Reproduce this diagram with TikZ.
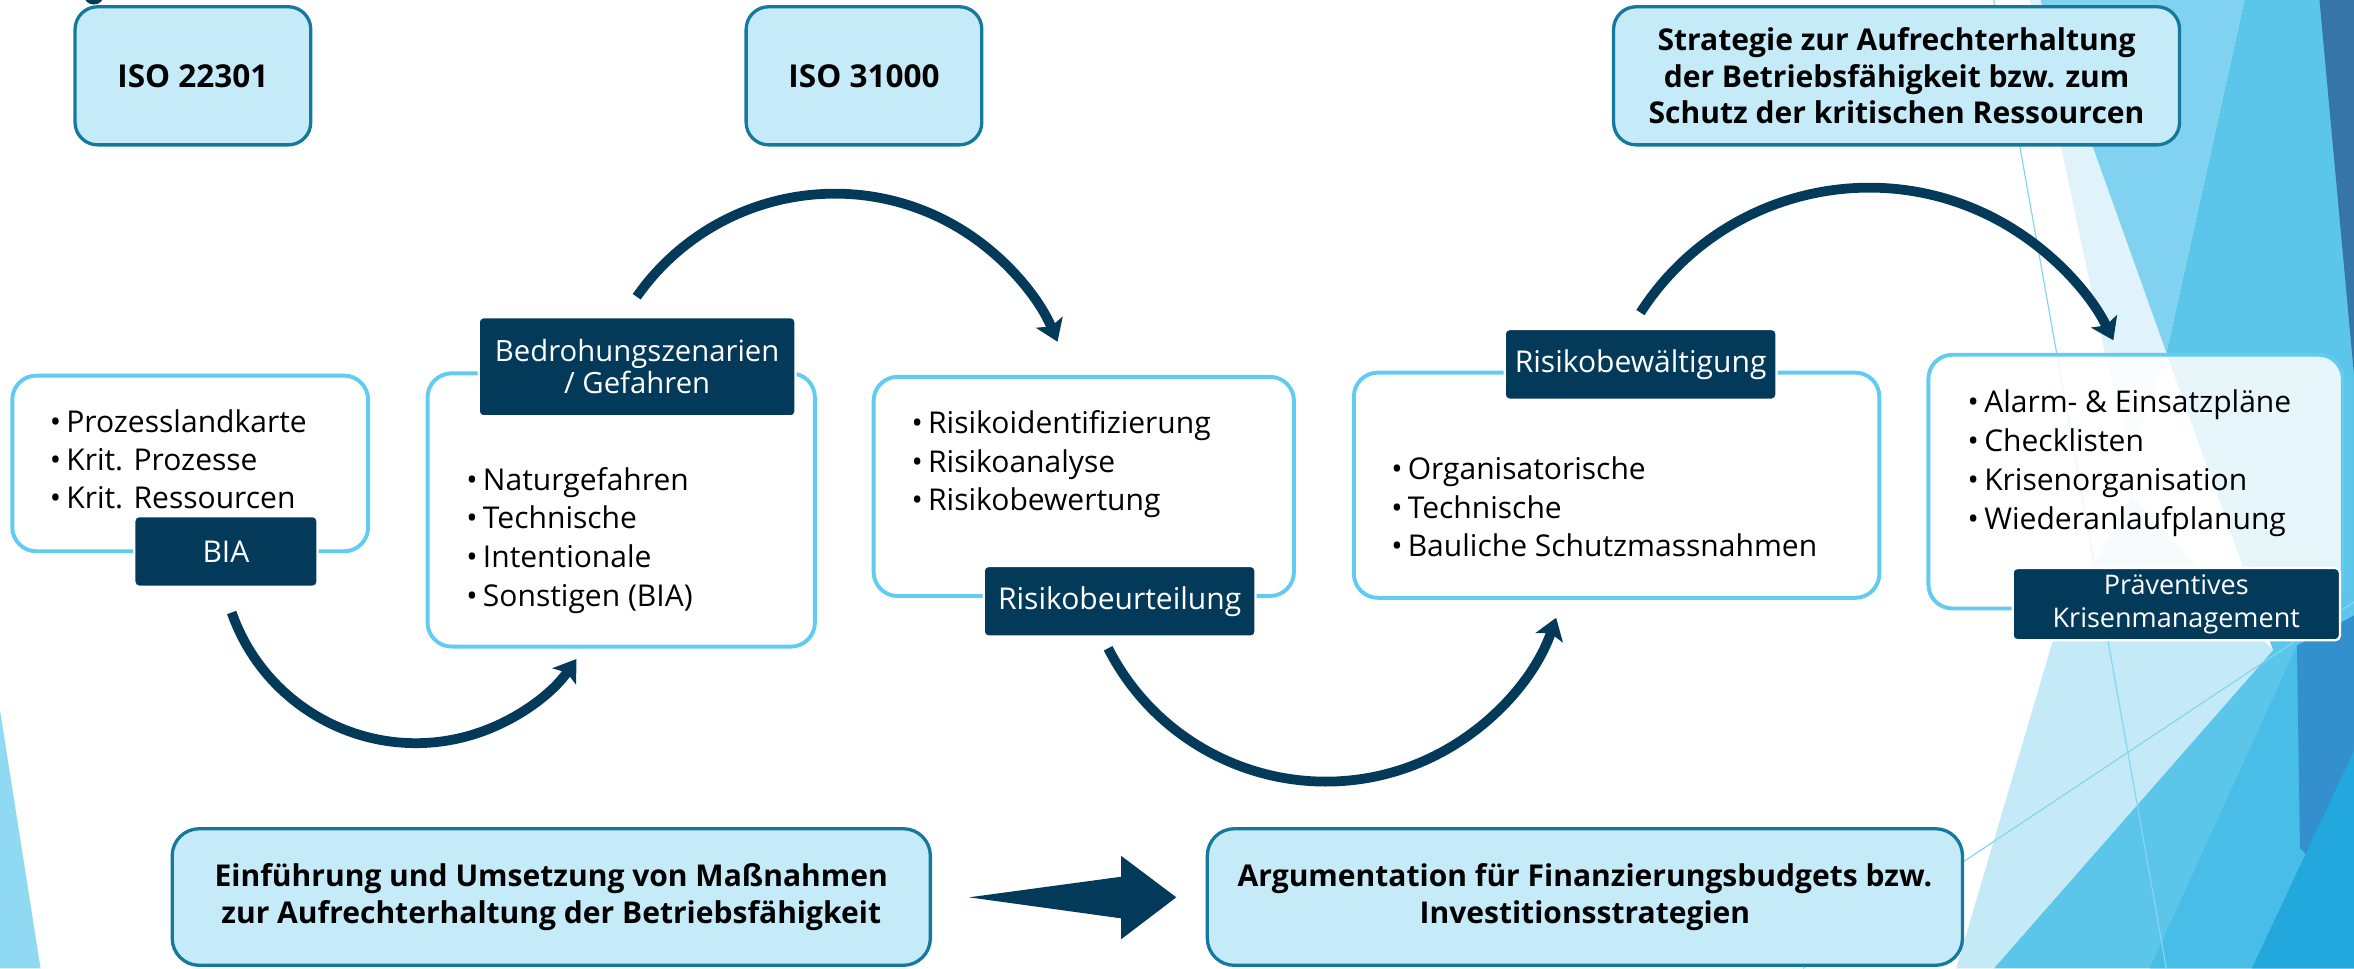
\documentclass[tikz,border=0pt]{standalone}
\usepackage{fontspec}
\setmainfont{Open Sans}
\usetikzlibrary{arrows.meta,calc}
\definecolor{navy}{HTML}{033A5A}
\definecolor{hdfill}{HTML}{C5EBF9}
\definecolor{hdline}{HTML}{15799D}
\definecolor{ltline}{HTML}{62CBF0}
\definecolor{bgpale}{HTML}{E0F3FA}
\definecolor{bglight}{HTML}{80D2F0}
\definecolor{bgmid}{HTML}{5BC5EA}
\definecolor{bgmidb}{HTML}{47BDE7}
\definecolor{bglow}{HTML}{C4EAF7}
\definecolor{bgsteel}{HTML}{3675A5}
\definecolor{bgdark}{HTML}{3390CC}
\definecolor{bgbright}{HTML}{22A8DC}
\definecolor{bgleft}{HTML}{8FDAF2}
\definecolor{bgthin}{HTML}{86D5F2}
\newcommand\itm[1]{\makebox[11pt][l]{•}#1}
\begin{document}
\begin{tikzpicture}[x=1pt,y=-1pt,
  hdbox/.style={draw=hdline, fill=hdfill, line width=2.2pt, rounded corners=15pt,
    inner sep=0pt, align=center, font=\fontsize{20}{24.2}\selectfont\bfseries},
  listbox/.style={draw=ltline, fill=white, line width=2.6pt, rounded corners=16pt, inner sep=0pt},
  tag/.style={draw=white, line width=1.5pt, fill=navy, text=white, rounded corners=3pt,
    inner sep=0pt, align=center, font=\fontsize{19.5}{21.5}\selectfont},
  items/.style={anchor=base west, inner sep=0pt, font=\fontsize{20}{25.5}\selectfont},
  bigarrow/.style={draw=navy, line width=6.5pt, -{Stealth[length=14pt,width=19pt,inset=3pt]}},
  thin/.style={draw=bgthin, line width=0.8pt}
]
\useasboundingbox (0,0) rectangle (1568,645);
\clip (0,0) rectangle (1568,645);

% decorative facets on the right and the left edge
\fill[bgmid] (1495,0) -- (1568,0) -- (1568,645) -- (1328,645) -- (1514,433) -- (1443,235) -- cycle;
\fill[bgmidb] (1432,645) -- (1530,430) -- (1568,430) -- (1568,645) -- cycle;
\fill[bgdark] (1530,430) -- (1568,410) -- (1568,600) -- (1532,565) -- cycle;
\fill[bgbright] (1500,645) -- (1568,500) -- (1568,645) -- cycle;
\fill[bgsteel] (1545,0) -- (1568,0) -- (1568,250) -- cycle;
\fill[bglight] (1359,0) -- (1495,0) -- (1443,235) -- (1420,300) -- cycle;
\fill[bgpale] (1352,0) -- (1359,0) -- (1443,235) -- (1420,300) -- (1402,235) -- cycle;
\fill[bglow] (1367,428) -- (1420,330) -- (1514,433) -- (1328,645) -- (1303,645) -- cycle;
\fill[bgleft] (0,473) -- (27,645) -- (0,645) -- cycle;
\coordinate (ta) at (1328,0);
\coordinate (tb) at (1443,645);
\coordinate (tc) at (1201,645);
\coordinate (td) at (1568,401);
\draw[thin] (ta) -- (tb);
\draw[thin] (tc) -- (td);
\fill[navy] (62.5,-3) ellipse[x radius=6.5, y radius=6];

% standards and strategy
\node[hdbox, minimum width=157pt, minimum height=92pt, font=\fontsize{21}{24}\selectfont\bfseries] (iso1) at (128.5,50.5) {ISO 22301};
\node[hdbox, minimum width=157pt, minimum height=92pt, font=\fontsize{21}{24}\selectfont\bfseries] (iso2) at (575.5,50.5) {ISO 31000};
\node[hdbox, minimum width=377pt, minimum height=92pt] (strat) at (1263.3,50.5)
  {Strategie zur Aufrechterhaltung\\der Betriebsfähigkeit bzw. zum\\Schutz der kritischen Ressourcen};

% process boxes
\node[listbox, minimum width=237pt, minimum height=117pt] (bia) at (126.7,308.7) {};
\node[listbox, minimum width=258pt, minimum height=182pt] (bed) at (413.8,339.7) {};
\node[listbox, minimum width=280pt, minimum height=146pt] (beu) at (721.9,324) {};
\node[listbox, minimum width=350pt, minimum height=150pt] (bew) at (1076.8,323.2) {};
\node[listbox, minimum width=276pt, minimum height=169pt, fill opacity=0.85] (pra) at (1422.5,320.8) {};

\node[items] (bialist) at (33,288) {\begin{tabular}[t]{@{}l@{}}\itm{Prozesslandkarte}\\\itm{Krit. Prozesse}\\\itm{Krit. Ressourcen}\end{tabular}};
\node[items, font=\fontsize{20}{25.8}\selectfont] (bedlist) at (310.5,326.4) {\begin{tabular}[t]{@{}l@{}}\itm{Naturgefahren}\\\itm{Technische}\\\itm{Intentionale}\\\itm{Sonstigen (BIA)}\end{tabular}};
\node[items] (beulist) at (607,289) {\begin{tabular}[t]{@{}l@{}}\itm{Risikoidentifizierung}\\\itm{Risikoanalyse}\\\itm{Risikobewertung}\end{tabular}};
\node[items] (bewlist) at (926.5,319.7) {\begin{tabular}[t]{@{}l@{}}\itm{Organisatorische}\\\itm{Technische}\\\itm{Bauliche Schutzmassnahmen}\end{tabular}};
\node[items, font=\fontsize{20}{26}\selectfont] (pralist) at (1310.5,275) {\begin{tabular}[t]{@{}l@{}}\itm{Alarm- \& Einsatzpläne}\\\itm{Checklisten}\\\itm{Krisenorganisation}\\\itm{Wiederanlaufplanung}\end{tabular}};

\node[tag, minimum width=122pt, minimum height=47pt, font=\fontsize{20}{22}\selectfont] (bialab) at (150.5,367.3) {BIA};
\node[tag, minimum width=211pt, minimum height=66pt] (bedlab) at (424.4,244.3) {Bedrohungszenarien\\/ Gefahren};
\node[tag, minimum width=181pt, minimum height=47pt, font=\fontsize{20}{22}\selectfont] (beulab) at (745.8,400.5) {Risikobeurteilung};
\node[tag, minimum width=181pt, minimum height=47pt, font=\fontsize{20}{22}\selectfont] (bewlab) at (1092.8,242.7) {Risikobewältigung};
\node[tag, minimum width=218pt, minimum height=48pt, font=\fontsize{18}{21.6}\selectfont] (pralab) at (1449.6,402.4) {Präventives\\Krisenmanagement};

% curved flow arrows
\coordinate (ca) at (277,365);
\coordinate (cb) at (556,290);
\coordinate (cc) at (883,358);
\coordinate (cd) at (1245,306);
\draw[bigarrow] ($(ca)+(160.7:130)$) arc[start angle=160.7, end angle=34.7, radius=130];
\draw[bigarrow] ($(cb)+(-145:161)$) arc[start angle=-145, end angle=-22.8, radius=161];
\draw[bigarrow] ($(cc)+(153:162.6)$) arc[start angle=153, end angle=19.2, radius=162.6];
\draw[bigarrow] ($(cd)+(-147.3:181)$) arc[start angle=-147.3, end angle=-26, radius=181];

% outcome boxes and block arrow
\node[hdbox, minimum width=505pt, minimum height=91pt, rounded corners=18pt] (einf) at (367.2,597.5)
  {Einführung und Umsetzung von Maßnahmen\\zur Aufrechterhaltung der Betriebsfähigkeit};
\node[hdbox, minimum width=503pt, minimum height=91pt, rounded corners=18pt] (arg) at (1055.7,597.5)
  {Argumentation für Finanzierungsbudgets bzw.\\Investitionsstrategien};
\fill[navy] (645.5,597.7) -- (746.7,584) -- (746.7,570) -- (783.5,597.7)
  -- (746.7,625.7) -- (746.7,611.7) -- cycle;
\end{tikzpicture}
\end{document}
